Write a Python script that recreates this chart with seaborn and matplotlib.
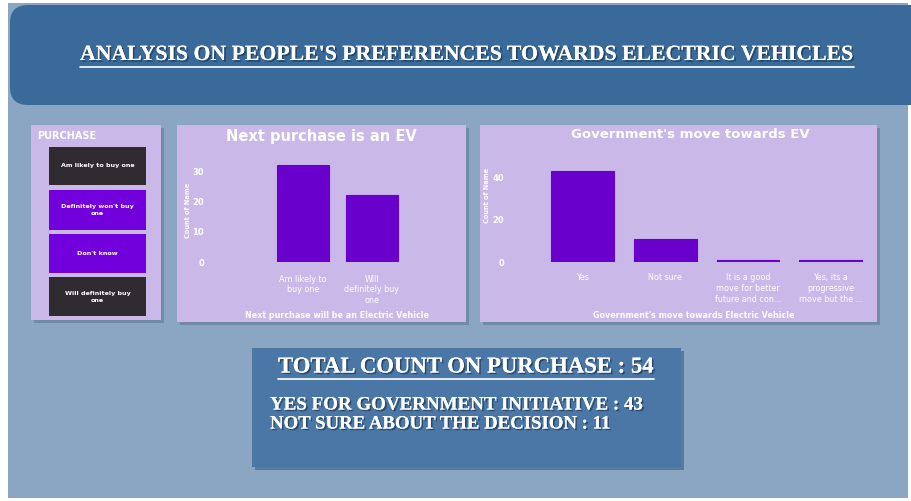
import matplotlib
matplotlib.use("Agg")
import matplotlib.pyplot as plt
import matplotlib.patheffects as pe
from matplotlib.patches import FancyBboxPatch, Rectangle
from matplotlib.lines import Line2D
import seaborn as sns
import pandas as pd

# ---------------- data ----------------
purchase_options = ["Am likely to buy one", "Definitely won't buy\none",
                    "Don't know", "Will definitely buy\none"]

next_purchase_labels = ["Am likely to\nbuy one", "Will\ndefinitely buy\none"]
next_purchase_counts = [32, 22]

gov_labels = ["Yes", "Not sure",
              "It is a good\nmove for better\nfuture and con...",
              "Yes, its a\nprogressive\nmove but the ..."]
gov_counts = [43, 11, 1, 1]

# ---------------- canvas helpers (pixel coords, origin top-left) ----------------
W, H = 912, 501
sns.set_theme(style="white")
plt.rcParams["font.family"] = ["DejaVu Sans"]

fig = plt.figure(figsize=(W / 100, H / 100), dpi=100, facecolor="white")


def box(x0, y0, x1, y1):
    return (x0 / W, 1 - y1 / H, (x1 - x0) / W, (y1 - y0) / H)


def fpt(x, y):
    return x / W, 1 - y / H


def add_rect(x0, y0, x1, y1, color, rounding=0.0, alpha=1.0, z=0):
    bx, by, bw, bh = box(x0, y0, x1, y1)
    if rounding > 0:
        p = FancyBboxPatch((bx, by), bw, bh,
                           boxstyle=f"round,pad=0,rounding_size={rounding / W}",
                           transform=fig.transFigure, facecolor=color,
                           edgecolor="none", alpha=alpha, zorder=z,
                           mutation_aspect=W / H)
    else:
        p = Rectangle((bx, by), bw, bh, transform=fig.transFigure,
                      facecolor=color, edgecolor="none", alpha=alpha, zorder=z)
    fig.add_artist(p)
    return p


renderer = fig.canvas.get_renderer()


def fit_text(x, y, s, width_px, size, ha="left", underline=False, **kw):
    t = fig.text(*fpt(x, y), s, fontsize=size, ha=ha, va="center", **kw)
    w = t.get_window_extent(renderer).width
    t.set_fontsize(size * width_px / w)
    if underline:
        bb = t.get_window_extent(renderer)
        yline = bb.y0 - 1.5
        fig.add_artist(Line2D([bb.x0 / W, bb.x1 / W], [yline / H, yline / H],
                              transform=fig.transFigure, color="white",
                              lw=1.2, zorder=t.get_zorder(),
                              path_effects=[pe.withSimplePatchShadow(
                                  offset=(1, -1), shadow_rgbFace="#1c3550",
                                  alpha=0.6)]))
    return t


# ---------------- background ----------------
add_rect(8, 3, 908, 498, "#8aa6c2", z=0)
add_rect(10, 5, 940, 105, "#396a9a", rounding=18, z=1)

shadow = [pe.withSimplePatchShadow(offset=(1.2, -1.2), shadow_rgbFace="#1c3550",
                                   alpha=0.7), pe.Normal()]
fit_text(467, 55, "ANALYSIS ON PEOPLE'S PREFERENCES TOWARDS ELECTRIC VEHICLES",
         775, 16, ha="center", underline=True, color="white",
         family="Liberation Serif", weight="bold", path_effects=shadow, zorder=5)

# ---------------- panels ----------------
panel_col = "#c9b8e8"
for (x0, y0, x1, y1) in [(31, 125, 161, 320), (177, 125, 466, 322), (480, 125, 877, 322)]:
    add_rect(x0 + 3, y0 + 3, x1 + 3, y1 + 3, "#5d7690", alpha=0.55, z=1)
    add_rect(x0, y0, x1, y1, panel_col, z=2)

# slicer
fig.text(*fpt(37, 136), "PURCHASE", color="white", fontsize=7, weight="bold",
         va="center", zorder=5)
btn_rows = [(147, 185), (190, 230), (234, 273), (277, 316)]
btn_cols = ["#2f2b30", "#7200dc", "#7200dc", "#2f2b30"]
for label, (y0, y1), c in zip(purchase_options, btn_rows, btn_cols):
    add_rect(49, y0, 146, y1, c, z=3)
    fig.text(*fpt(97.5, (y0 + y1) / 2), label, color="white", fontsize=4.6,
             weight="bold", ha="center", va="center", linespacing=1.5, zorder=5)

# ---------------- chart styling ----------------
bar_col = "#6a00cc"
tick_kw = dict(colors="white", labelsize=6, length=0)


def style_axes(ax):
    ax.set_facecolor("none")
    for s in ax.spines.values():
        s.set_visible(False)
    ax.set_xlabel("")
    ax.set_ylabel("")
    ax.tick_params(axis="both", **tick_kw)
    for lab in ax.get_xticklabels():
        lab.set_fontsize(5.8)
        lab.set_linespacing(1.25)
    for lab in ax.get_yticklabels():
        lab.set_fontweight("bold")


bar_kw = dict(color=bar_col, saturation=1, edgecolor=bar_col, linewidth=0.8)

# chart 1: next purchase
df1 = pd.DataFrame({"choice": next_purchase_labels, "count": next_purchase_counts})
ax1 = fig.add_axes(box(215, 150, 460, 262))
ax1.set_zorder(4)
sns.barplot(data=df1, x="choice", y="count", width=0.75, ax=ax1, **bar_kw)
ax1.set_xlim(-1.28, 2.28)
ax1.set_ylim(0, 37)
ax1.set_yticks([0, 10, 20, 30])
style_axes(ax1)
ax1.tick_params(axis="y", pad=8)
ax1.tick_params(axis="x", pad=9)
fig.text(*fpt(321, 137), "Next purchase is an EV", color="white", fontsize=10.5,
         weight="bold", ha="center", va="center", zorder=5)
fig.text(*fpt(188, 210), "Count of Name", color="white", fontsize=4.8,
         weight="bold", rotation=90, ha="center", va="center", zorder=5)
fig.text(*fpt(337, 315), "Next purchase will be an Electric Vehicle", color="white",
         fontsize=5.8, weight="bold", ha="center", va="center", zorder=5)

# chart 2: government move
df2 = pd.DataFrame({"move": gov_labels, "count": gov_counts})
ax2 = fig.add_axes(box(515, 150, 872, 262))
ax2.set_zorder(4)
sns.barplot(data=df2, x="move", y="count", width=0.76, ax=ax2, **bar_kw)
ax2.set_xlim(-0.82, 3.5)
ax2.set_ylim(0, 112 / 2.116)
ax2.set_yticks([0, 20, 40])
style_axes(ax2)
ax2.tick_params(axis="y", pad=8)
ax2.tick_params(axis="x", pad=8)
fig.text(*fpt(690, 135), "Government's move towards EV", color="white", fontsize=9.5,
         weight="bold", ha="center", va="center", zorder=5)
fig.text(*fpt(487, 195), "Count of Name", color="white", fontsize=4.8,
         weight="bold", rotation=90, ha="center", va="center", zorder=5)
fig.text(*fpt(694, 315), "Government's move towards Electric Vehicle", color="white",
         fontsize=5.8, weight="bold", ha="center", va="center", zorder=5)

# ---------------- summary card ----------------
add_rect(255, 351, 684, 470, "#36577a", alpha=0.55, z=1)
add_rect(252, 348, 681, 467, "#4a77a6", z=2)
card_font = dict(color="white", family="Liberation Serif", weight="bold",
                 path_effects=shadow, zorder=5)
fit_text(466, 367, f"TOTAL COUNT ON PURCHASE : {sum(next_purchase_counts)}",
         377, 14, ha="center", underline=True, **card_font)
fit_text(270, 405, f"YES FOR GOVERNMENT INITIATIVE : {gov_counts[0]}",
         372, 12, **card_font)
fit_text(270, 424, f"NOT SURE ABOUT THE DECISION : {gov_counts[1]}",
         340, 12, **card_font)

fig.savefig("out.png", dpi=100, facecolor=fig.get_facecolor())
